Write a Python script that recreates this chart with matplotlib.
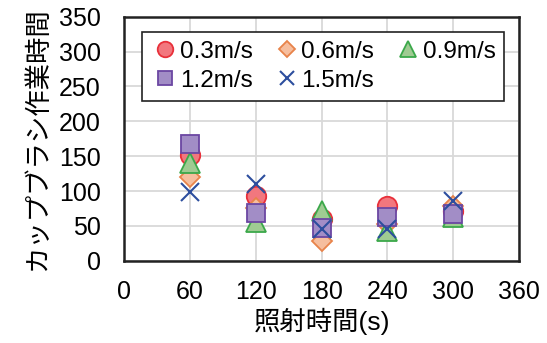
import matplotlib
matplotlib.use('Agg')
import matplotlib.pyplot as plt

plt.rcParams['font.family'] = ['Liberation Sans', 'Noto Sans CJK JP', 'DejaVu Sans']

# Irradiation time (s)
times = [60, 120, 180, 240, 300]

# Cup brush work time for each speed
v03 = [152, 93, 60, 78, 72]
v06 = [120, 75, 28, 52, 78]
v09 = [140, 55, 72, 42, 62]
v12 = [167, 68, 47, 63, 67]
v15 = [98, 110, 45, 45, 85]

labels = ['0.3m/s', '0.6m/s', '0.9m/s', '1.2m/s', '1.5m/s']
xticks = [0, 60, 120, 180, 240, 300, 360]
yticks = [0, 50, 100, 150, 200, 250, 300, 350]

fig = plt.figure(figsize=(5.47, 3.43), dpi=100)
ax = fig.add_axes([0.227, 0.240, 0.722, 0.711])

ms = 13
h = []
h += ax.plot(times, v03, 'o', ms=ms + 1, mfc='#F2777E', mec='#E8303A', mew=1.3, label=labels[0], zorder=3)
h += ax.plot(times, v06, 'D', ms=ms - 3, mfc='#F6BE9E', mec='#E8834A', mew=1.3, label=labels[1], zorder=3)
h += ax.plot(times, v09, '^', ms=ms + 1, mfc='#9FCB92', mec='#3BA84A', mew=1.3, label=labels[2], zorder=3)
h += ax.plot(times, v12, 's', ms=ms, mfc='#A28DC6', mec='#6B47A2', mew=1.3, label=labels[3], zorder=3)
h += ax.plot(times, v15, 'x', ms=ms, color='#2D4E9E', mew=1.5, label=labels[4], zorder=3)

ax.set_xlim(0, 360)
ax.set_ylim(0, 350)
ax.set_xticks(xticks)
ax.set_yticks(yticks)
ax.grid(True, color='#D9D9D9', linewidth=1.3)
ax.set_axisbelow(True)
ax.tick_params(length=0, labelsize=18)
ax.tick_params(axis='y', pad=17)
ax.tick_params(axis='x', pad=14)
for s in ax.spines.values():
    s.set_linewidth(1.8)
    s.set_color('#222222')

ax.set_xlabel('照射時間(s)', fontsize=19, labelpad=3)
ax.set_ylabel('カップブラシ作業時間', fontsize=19, labelpad=6)

# row-wise order for a 3-column legend
order = [0, 3, 1, 4, 2]
leg = ax.legend([h[i] for i in order], [labels[i] for i in order], ncol=3,
                loc='upper left', bbox_to_anchor=(0.046, 0.937), borderaxespad=0,
                fontsize=17.5, frameon=True, fancybox=False, edgecolor='#222222',
                framealpha=1, handletextpad=0.0, columnspacing=0.8, borderpad=0.35,
                labelspacing=0.3, handlelength=1.2, markerscale=0.8)
leg.get_frame().set_linewidth(1.2)

fig.savefig('out.png', dpi=100)
